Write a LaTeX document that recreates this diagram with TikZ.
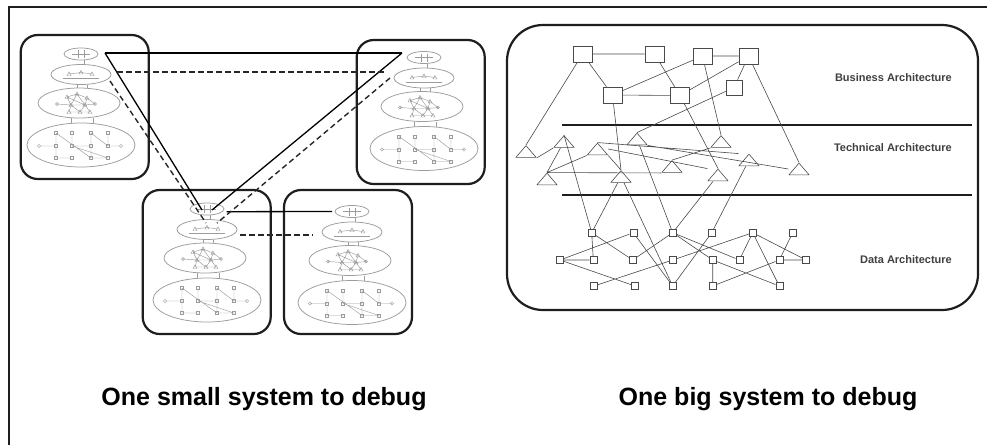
\documentclass[tikz,border=0pt]{standalone}
\usepackage{fontspec}
\setmainfont{Liberation Sans}
\usetikzlibrary{shapes.geometric,calc}

\definecolor{ink}{HTML}{1E1E1E}
\definecolor{net}{HTML}{4A4A4A}
\definecolor{faint}{HTML}{9C9C9C}

\tikzset{
  frameline/.style={draw=ink, line width=2.2pt},
  sysframe/.style={draw=ink, line width=2.2pt, rounded corners=17pt, minimum width=128pt, minimum height=144pt, inner sep=0pt},
  layer/.style={ellipse, draw=faint, line width=0.75pt, inner sep=0pt},
  detail/.style={draw=faint, line width=0.45pt},
  tie/.style={draw=black, line width=1.3pt},
  dashtie/.style={draw=black!85, line width=1.4pt, dash pattern=on 5.5pt off 3.5pt},
  bigframe/.style={draw=ink, line width=2.2pt, rounded corners=36pt, minimum width=471pt, minimum height=285pt, inner sep=0pt},
  rule/.style={draw=ink, line width=1.1pt},
  bsq/.style={draw=net, line width=0.7pt, minimum width=19pt, minimum height=16pt, inner sep=0pt},
  dsq/.style={draw=net, line width=0.6pt, minimum width=7pt, minimum height=7pt, inner sep=0pt},
  tri/.style={minimum width=21pt, minimum height=12.5pt, inner sep=0pt,
    path picture={\draw[net, line width=0.6pt, line join=round]
      ([xshift=0.4pt,yshift=0.4pt]path picture bounding box.south west) --
      ([yshift=-0.4pt]path picture bounding box.north) --
      ([xshift=-0.4pt,yshift=0.4pt]path picture bounding box.south east) -- cycle;}},
  wire/.style={draw=net, line width=0.6pt},
  archlabel/.style={anchor=east, font=\fontsize{11}{13}\selectfont\bfseries, text=ink!85, inner sep=0pt},
  caption/.style={font=\fontsize{25}{30}\selectfont\bfseries, text=black, inner sep=0pt},
}

% tiny glyphs used inside the layers of a small system
\newcommand{\tinytri}[2]{\draw[detail] (#1-2,#2+1.5) -- (#1,#2-2) -- (#1+2,#2+1.5) -- cycle;}
\newcommand{\tinysq}[2]{\draw[detail] (#1-1.5,#2-1.5) rectangle (#1+1.5,#2+1.5);}

% one small system: #1 name, #2/#3 frame top-left corner, #4/#5 centre of the top layer
\newcommand{\minisys}[5]{%
  \node[sysframe] (#1) at (#2+64,#3+72) {};
  \node[layer, minimum width=34pt, minimum height=12pt] (#1e1) at (#4,#5) {};
  \node[layer, minimum width=60pt, minimum height=20pt] (#1e2) at (#4,#5+20.5) {};
  \node[layer, minimum width=82pt, minimum height=30pt] (#1e3) at (#4-2,#5+49) {};
  \node[layer, minimum width=108pt, minimum height=44pt] (#1e4) at (#4,#5+91) {};
  \begin{scope}[shift={(#4,#5)}]
    % top layer
    \draw[detail] (-9,0) -- (9,0) (-3,-4) -- (-3,4) (3,-4) -- (3,4);
    \draw[detail] (3,6) -- (3,10.5);
    % second layer
    \draw[detail] (-18,24.5) -- (18,24.5);
    \tinytri{-12}{20} \tinytri{0}{18.5} \tinytri{11}{20}
    \draw[detail] (-12,20) -- (0,18.5) -- (11,20);
    \draw[detail] (-4,30.5) -- (-4,34) (6,30.5) -- (6,34);
    % third layer
    \begin{scope}[shift={(-2,49)}]
      \draw[detail] (-12,-6) -- (-2,-9) -- (8,-5) -- (16,1) -- (6,2) -- (-8,2) -- (-22,1)
        (-12,-6) -- (-8,2) -- (-10,9) -- (1,9) -- (11,9) -- (6,2) -- (-2,-9) -- (-8,2) -- (1,9) -- (6,2)
        (8,-5) -- (6,2) (-12,-6) -- (6,2);
      \tinytri{-12}{-6} \tinytri{-2}{-9} \tinytri{8}{-5} \tinytri{-8}{2} \tinytri{6}{2}
      \tinytri{-10}{9} \tinytri{1}{9} \tinytri{11}{9}
      \draw[detail] (-22,1) circle (1.5) (16,1) circle (1.5);
    \end{scope}
    \draw[detail] (-10,64) -- (-10,69) (12,64) -- (12,69);
    % bottom layer
    \begin{scope}[shift={(0,91)}]
      \draw[detail] (-25,-12) -- (-25,13) (-9,-12) -- (-9,1) (10,-12) -- (10,13) (27,-12) -- (27,1)
        (-25,-12) -- (10,13) (-9,1) -- (27,13) (-42,1) -- (-25,1) (27,1) -- (40,1)
        (-25,13) -- (-9,13) (10,13) -- (27,13) (10,-12) -- (27,1) (-9,1) -- (10,1);
      \foreach \px in {-25,-9,10,27} {\tinysq{\px}{-12} \tinysq{\px}{1} \tinysq{\px}{13}}
      \draw[detail] (-42,1) circle (1.6) (40,1) circle (1.6);
    \end{scope}
  \end{scope}
}

\begin{document}
\begin{tikzpicture}[x=1pt,y=-1pt]
\useasboundingbox (0,0) rectangle (987,445);
\fill[white] (0,0) rectangle (987,445);

% page frame
\draw[frameline] (987,7) -- (9,7) -- (9,445);

% ---------- four small systems ----------
\minisys{sa}{20.7}{35}{81}{54}
\minisys{sb}{356.7}{40}{424}{57.5}
\minisys{sc}{142.7}{190}{207}{209}
\minisys{sd}{284}{190}{352}{211.5}

% links between the top layers
\draw[tie] ($(sae1)+(24,-1)$) -- ($(sbe1)+(-22,-4.5)$);
\draw[tie] ($(sae1)+(24,-1)$) -- ($(sce1)+(-5,1)$);
\draw[tie] ($(sbe1)+(-22,-4.5)$) -- ($(sce1)+(5,1)$);
\draw[tie] ($(sce1)+(19.7,2.7)$) -- ($(sde1)+(-20,0)$);

% links between the second layers
\draw[dashtie] ($(sae2)+(36,-2.5)$) -- ($(sbe2)+(-39,-6)$);
\draw[dashtie] ($(sae2)+(29,6.5)$) -- ($(sce2)+(-1,-6.5)$);
\draw[dashtie] ($(sbe2)+(-34,0)$) -- ($(sce2)+(10,-6.5)$);
\draw[dashtie] ($(sce2)+(33,5.5)$) -- ($(sde2)+(-39,3)$);

% ---------- one big system ----------
\node[bigframe] (big) at (742.5,167.5) {};
\draw[rule] (562,125) -- (972,125);
\draw[rule] (562,195) -- (972,195);

\node[archlabel] (lbiz) at (952,78) {Business Architecture};
\node[archlabel] (ltech) at (952,148) {Technical Architecture};
\node[archlabel] (ldata) at (952,260) {Data Architecture};

% business layer
\node[bsq] (b1) at (582.5,54) {};
\node[bsq] (b2) at (654.5,54) {};
\node[bsq] (b3) at (702.5,56) {};
\node[bsq] (b4) at (748.5,56) {};
\node[bsq] (b5) at (612.5,95) {};
\node[bsq] (b6) at (680,95.5) {};
\node[bsq, minimum width=16pt, minimum height=15pt] (b7) at (734,87.5) {};

% technical layer
\node[tri] (t1) at (526,151.5) {};
\node[tri] (t2) at (564,141.5) {};
\node[tri] (t3) at (597.5,149) {};
\node[tri] (t4) at (637,139) {};
\node[tri] (t5) at (721,141.5) {};
\node[tri] (t6) at (672,166.5) {};
\node[tri] (t7) at (749,160) {};
\node[tri] (t8) at (799,169) {};
\node[tri] (t9) at (547,179) {};
\node[tri] (t10) at (621,176.5) {};
\node[tri] (t11) at (718,175) {};

% data layer
\foreach \n/\x in {a/591.7,b/633.3,c/672.7,d/711.7,e/752.7,f/792.7}
  \node[dsq] (r1\n) at (\x,232.7) {};
\foreach \n/\x in {a/560,b/593.3,c/632.7,d/672.7,e/712.7,f/739.3,g/779.3,h/806}
  \node[dsq] (r2\n) at (\x,260) {};
\foreach \n/\x in {a/594,b/635,c/672.7,d/712.7,e/779.3}
  \node[dsq] (r3\n) at (\x,286) {};

% business links
\draw[wire] (b1) -- (b2) (b3) -- (b4) (b5) -- (b6) (b1) -- (b5) (b1) -- (t1.north)
  (b2) -- (b6) (b3) -- (b5) (b4) -- (b6) (b4) -- (b7) (b4) -- (t8.north)
  (b3) -- (t5.north) (b5) -- (t10.north) (b6) -- (t11.north) (b7) -- (t4.north);

% technical links
\draw[wire] (t1.south east) -- (t2.south west) (t2) -- (t9.north) (t2.north) -- (r1a)
  (t3.south west) -- (t9.north) (t3.south east) -- (t10.north) (t3.north) -- (t7.north west)
  (t3.east) -- (t11.north west) (t4.south east) -- (t8.west) (t9.north) -- (t6.south west)
  (t6.north) -- (t5.south west);

% technical to data links
\draw[wire] (t7) -- (r1d) (t11) -- (r1c) (t4) -- (r1c) (t10) -- (r1a) (t10) -- (r3c);

% data links
\draw[wire] (r2a) -- (r2b) (r2a) -- (r1b) (r2a) -- (r3b) (r1a) -- (r2b) (r1a) -- (r2c)
  (r1b) -- (r3c) (r3a) -- (r2d) (r2d) -- (r1e) (r2c) -- (r1c) (r1c) -- (r2e)
  (r1d) -- (r3c) (r1c) -- (r2f) (r2e) -- (r3d) (r3d) -- (r2g) (r1e) -- (r2f)
  (r1e) -- (r3e) (r1e) -- (r2h) (r1f) -- (r2g) (r2g) -- (r2h) (r2e) -- (r3e);

% captions
\node[caption] (capsmall) at (264,399) {One small system to debug};
\node[caption] (capbig) at (768,399) {One big system to debug};
\end{tikzpicture}
\end{document}
